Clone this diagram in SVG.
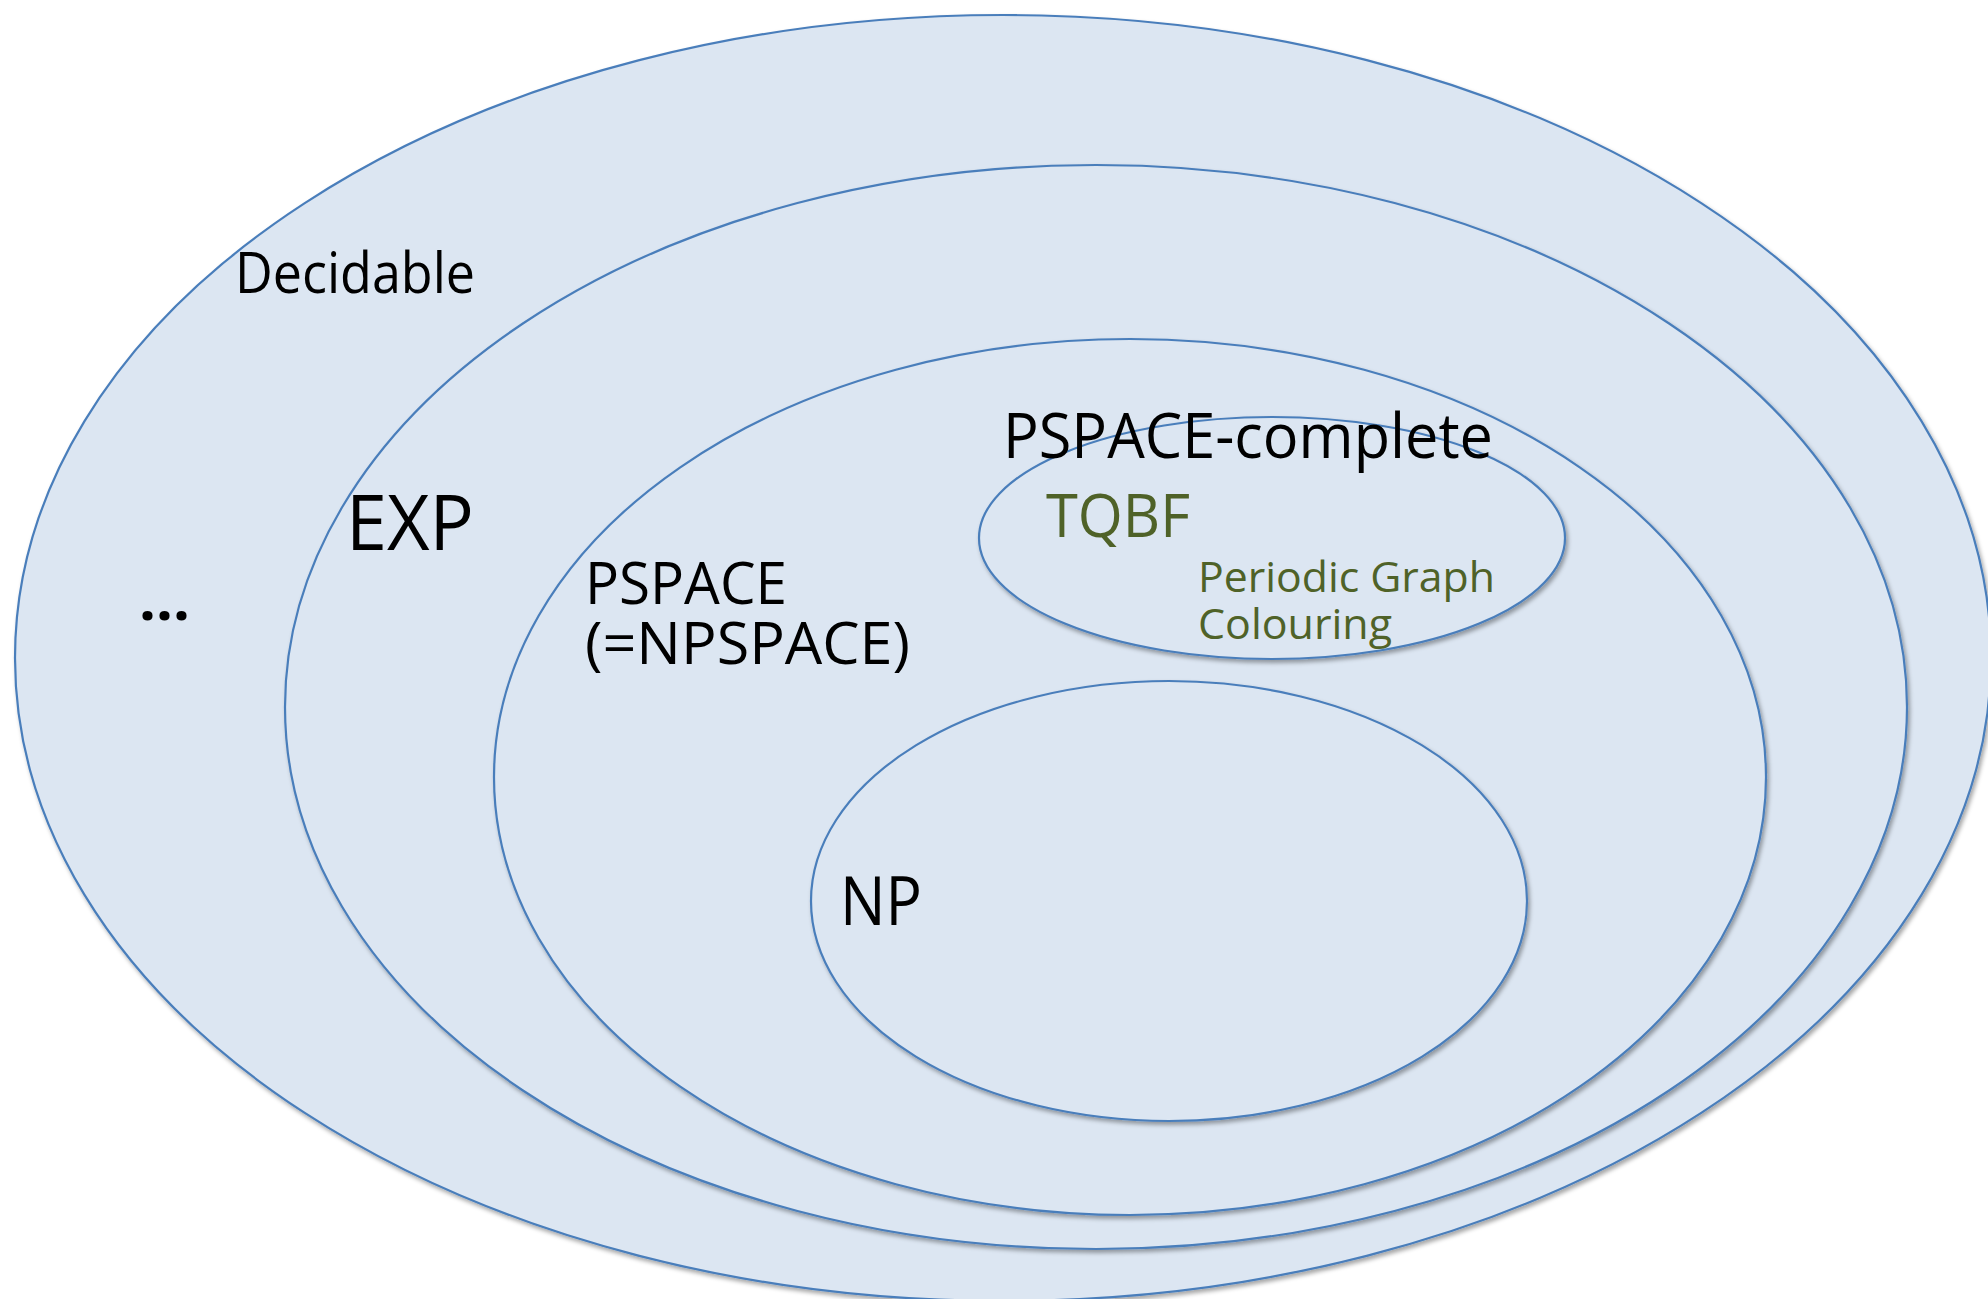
<svg xmlns="http://www.w3.org/2000/svg" width="1988" height="1299" viewBox="0 0 1988 1299">
<defs>
<filter id="sh" x="-5%" y="-5%" width="110%" height="110%">
<feDropShadow dx="2" dy="3" stdDeviation="2" flood-color="#000" flood-opacity="0.35"/>
</filter>
<style>
.set{fill:#DCE6F2;stroke:#4A7EBB;stroke-width:2.2;filter:url(#sh)}
.lbl{font-family:"Open Sans","Noto Sans","Liberation Sans",sans-serif;fill:#000}
.grn{font-family:"Open Sans","Noto Sans","Liberation Sans",sans-serif;fill:#4F6228}
</style>
</defs>
<rect width="1988" height="1299" fill="#fff"/>
<g id="decidable">
<ellipse class="set" cx="1003" cy="658" rx="988" ry="643"/>
<text class="lbl" x="235" y="293" font-size="56" textLength="240" lengthAdjust="spacingAndGlyphs">Decidable</text>
<text class="lbl" x="139" y="620" font-size="58" font-weight="bold" textLength="51" lengthAdjust="spacingAndGlyphs">...</text>
</g>
<g id="exp">
<ellipse class="set" cx="1096" cy="707" rx="811" ry="542"/>
<text class="lbl" x="346" y="550" font-size="77" textLength="128" lengthAdjust="spacingAndGlyphs">EXP</text>
</g>
<g id="pspace">
<ellipse class="set" cx="1130" cy="777" rx="636" ry="438"/>
<text class="lbl" x="585" y="604" font-size="59" textLength="202" lengthAdjust="spacingAndGlyphs">PSPACE</text>
<text class="lbl" x="585" y="664" font-size="59" textLength="325" lengthAdjust="spacingAndGlyphs">(=NPSPACE)</text>
</g>
<g id="pspace-complete">
<ellipse class="set" cx="1272" cy="538" rx="293" ry="121"/>
<text class="lbl" x="1003" y="458" font-size="62" textLength="490" lengthAdjust="spacingAndGlyphs">PSPACE-complete</text>
<text class="grn" x="1046" y="537" font-size="60" textLength="144" lengthAdjust="spacingAndGlyphs">TQBF</text>
<text class="grn" x="1198" y="592" font-size="42" textLength="297" lengthAdjust="spacingAndGlyphs">Periodic Graph</text>
<text class="grn" x="1198" y="639" font-size="42" textLength="194" lengthAdjust="spacingAndGlyphs">Colouring</text>
</g>
<g id="np">
<ellipse class="set" cx="1169" cy="901" rx="358" ry="220"/>
<text class="lbl" x="840" y="925" font-size="67" textLength="82" lengthAdjust="spacingAndGlyphs">NP</text>
</g>
<g id="connectors"/>
</svg>
